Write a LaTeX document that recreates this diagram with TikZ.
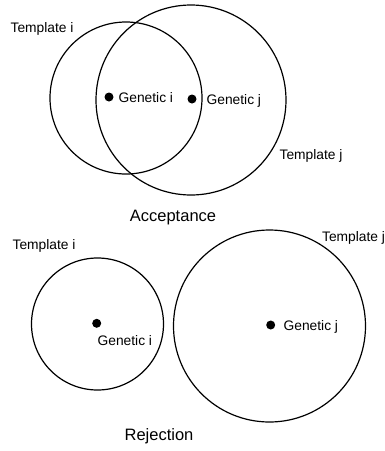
\documentclass[tikz,border=0pt]{standalone}
\usepackage{fontspec}
\setmainfont{Liberation Sans}
\begin{document}
\begin{tikzpicture}[x=1pt,y=-1pt,line width=1.2pt,
    lbl/.style={inner sep=0pt,anchor=base west,font=\fontsize{13.8}{16}\selectfont},
    ttl/.style={inner sep=0pt,anchor=base,font=\fontsize{16.5}{19}\selectfont}]
    \useasboundingbox(0,0)rectangle(385,451);
    \coordinate(ai)at(126,98);
    \coordinate(aj)at(191,100);
    \coordinate(gai)at(109,97);
    \coordinate(gaj)at(192,99);
    \draw(ai)circle(76pt);
    \draw(aj)circle(95pt);
    \fill(gai)circle(4.5pt);
    \fill(gaj)circle(4.5pt);
    \node[lbl](tai)at(10,32.5){Template i};
    \node[lbl](tgai)at(118,102.5){Genetic i};
    \node[lbl](tgaj)at(206,104){Genetic j};
    \node[lbl](taj)at(279,159){Template j};
    \node[ttl](acc)at(173,221.5){Acceptance};
    \coordinate(ri)at(97.5,324);
    \coordinate(rj)at(269.5,326);
    \coordinate(gri)at(96.7,323.3);
    \coordinate(grj)at(270.7,325);
    \draw(ri)circle(66pt);
    \draw(rj)circle(96pt);
    \fill(gri)circle(4.5pt);
    \fill(grj)circle(4.5pt);
    \node[lbl](tri)at(12,249.5){Template i};
    \node[lbl](tgri)at(97,345){Genetic i};
    \node[lbl](tgrj)at(283,330){Genetic j};
    \node[lbl](trj)at(321.5,241){Template j};
    \node[ttl](rej)at(159,440){Rejection};
\end{tikzpicture}
\end{document}
